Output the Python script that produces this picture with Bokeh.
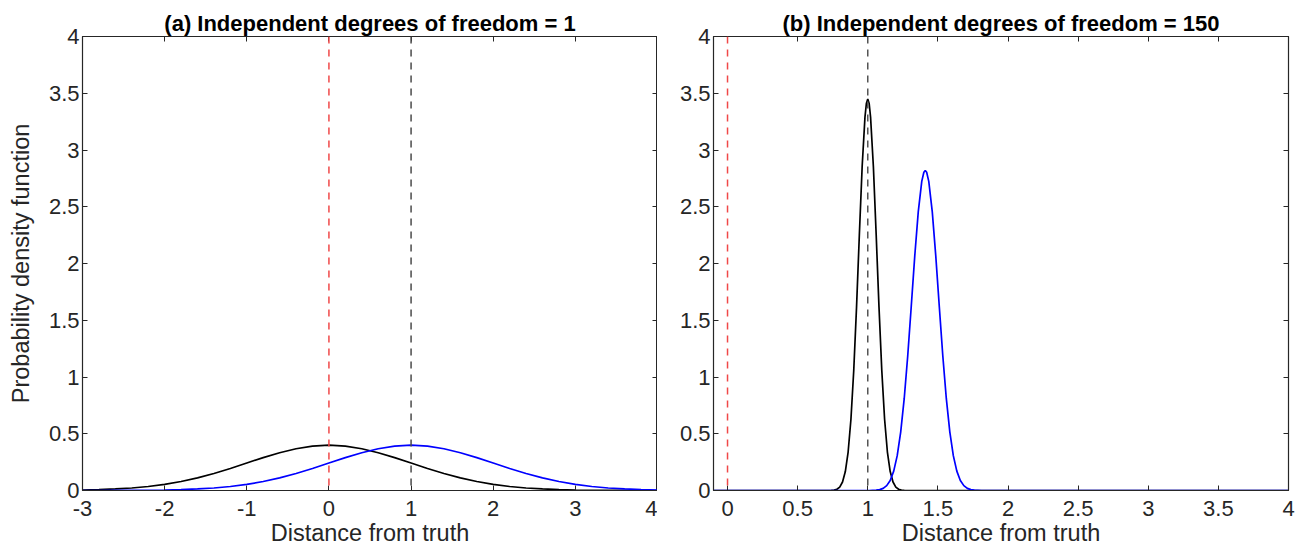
from bokeh.plotting import figure
from bokeh.layouts import row
from bokeh.models import Span, FixedTicker, CustomJSTickFormatter, LinearAxis, Range1d
from bokeh.embed import file_html
from bokeh.resources import INLINE

# ---------------- data ----------------
titles = ["(a) Independent degrees of freedom = 1",
          "(b) Independent degrees of freedom = 150"]
xlabel = "Distance from truth"
ylabel = "Probability density function"

# panel (a)
xa = [-3.0, -2.8, -2.6, -2.4, -2.2, -2.0, -1.8, -1.6, -1.4, -1.2, -1.0, -0.8,
      -0.6, -0.4, -0.2, 0.0, 0.2, 0.4, 0.6, 0.8, 1.0, 1.2, 1.4, 1.6, 1.8, 2.0,
      2.2, 2.4, 2.6, 2.8, 3.0, 3.2, 3.4, 3.6, 3.8, 4.0]
ya_black = [0.004, 0.008, 0.014, 0.022, 0.035, 0.054, 0.079, 0.111, 0.150, 0.194,
            0.242, 0.290, 0.333, 0.368, 0.391, 0.399, 0.391, 0.368, 0.333, 0.290,
            0.242, 0.194, 0.150, 0.111, 0.079, 0.054, 0.035, 0.022, 0.014, 0.008,
            0.004, 0.002, 0.001, 0.001, 0.000, 0.000]
ya_blue = [0.000, 0.000, 0.001, 0.001, 0.002, 0.004, 0.008, 0.014, 0.022, 0.035,
           0.054, 0.079, 0.111, 0.150, 0.194, 0.242, 0.290, 0.333, 0.368, 0.391,
           0.399, 0.391, 0.368, 0.333, 0.290, 0.242, 0.194, 0.150, 0.111, 0.079,
           0.054, 0.035, 0.022, 0.014, 0.008, 0.004]
ref_a = [0.0, 1.0]   # red (truth), grey (reference)

# panel (b)
xb_black = [-0.1, 0.7, 0.74, 0.76, 0.78, 0.80, 0.82, 0.84, 0.86, 0.88, 0.90,
            0.92, 0.94, 0.96, 0.98, 0.99, 1.0, 1.01, 1.02, 1.04, 1.06, 1.08,
            1.10, 1.12, 1.14, 1.16, 1.18, 1.20, 1.22, 1.24, 1.26, 1.3, 4.0]
yb_black = [0.0, 0.0, 0.001, 0.004, 0.011, 0.030, 0.075, 0.167, 0.339, 0.628,
            1.057, 1.618, 2.253, 2.855, 3.29, 3.41, 3.45, 3.41, 3.29, 2.855,
            2.253, 1.618, 1.057, 0.628, 0.339, 0.167, 0.075, 0.030, 0.011,
            0.004, 0.001, 0.0, 0.0]
xb_blue = [-0.1, 1.01, 1.06, 1.085, 1.11, 1.135, 1.16, 1.185, 1.21, 1.235, 1.26,
           1.285, 1.31, 1.335, 1.36, 1.385, 1.40, 1.41, 1.42, 1.435, 1.46, 1.485,
           1.51, 1.535, 1.56, 1.585, 1.61, 1.635, 1.66, 1.685, 1.71, 1.735, 1.76,
           1.81, 4.0]
yb_blue = [0.0, 0.0, 0.003, 0.008, 0.019, 0.043, 0.088, 0.171, 0.307, 0.517, 0.811,
           1.187, 1.621, 2.065, 2.455, 2.724, 2.804, 2.82, 2.804, 2.724, 2.455,
           2.065, 1.621, 1.187, 0.811, 0.517, 0.307, 0.171, 0.088, 0.043, 0.019,
           0.008, 0.003, 0.0, 0.0]
ref_b = [0.0, 1.0]

xticks_a = [-3, -2, -1, 0, 1, 2, 3, 4]
xticks_b = [0, 0.5, 1, 1.5, 2, 2.5, 3, 3.5, 4]
yticks = [0, 0.5, 1, 1.5, 2, 2.5, 3, 3.5, 4]

# ---------------- styling ----------------
FONT = "Liberation Sans"
TXT = "#262626"
fmt = CustomJSTickFormatter(code="return String(Math.round(tick*100)/100);")
blank = CustomJSTickFormatter(code="return '';")


def style_axis(ax, labels=True):
    ax.major_tick_in = 5
    ax.major_tick_out = 0
    ax.minor_tick_line_color = None
    ax.axis_line_color = TXT
    ax.axis_line_width = 1.2
    ax.major_tick_line_color = TXT
    ax.major_label_text_font = FONT
    ax.major_label_text_font_size = "22px"
    ax.major_label_text_color = TXT
    ax.axis_label_text_font = FONT
    ax.axis_label_text_font_size = "23.5px"
    ax.axis_label_text_color = TXT
    ax.axis_label_text_font_style = "normal"
    if not labels:
        ax.formatter = blank
        ax.major_label_text_font_size = "1px"
        ax.major_label_standoff = 0


def make(title, xr, xticks, left_border, right_border, ylab):
    p = figure(frame_width=575, frame_height=454, x_range=Range1d(*xr),
               y_range=Range1d(0, 4), output_backend="svg", toolbar_location=None,
               min_border_left=left_border, min_border_right=right_border,
               min_border_top=36, min_border_bottom=57)
    p.title.text = title
    p.title.align = "center"
    p.title.text_font = FONT
    p.title.text_font_size = "22px"
    p.title.text_font_style = "bold"
    p.title.text_color = "black"
    p.title.standoff = 2
    p.grid.visible = False
    p.outline_line_color = TXT
    p.background_fill_color = "white"
    p.border_fill_color = "white"
    p.xaxis.ticker = FixedTicker(ticks=xticks)
    p.yaxis.ticker = FixedTicker(ticks=yticks)
    p.xaxis.formatter = fmt
    p.yaxis.formatter = fmt
    p.xaxis.axis_label = xlabel
    p.xaxis.major_label_standoff = 10
    p.xaxis.axis_label_standoff = 1
    p.yaxis.major_label_standoff = 3
    if ylab:
        p.yaxis.axis_label = ylab
        p.yaxis.axis_label_standoff = 12
    style_axis(p.xaxis[0])
    style_axis(p.yaxis[0])
    top = LinearAxis(ticker=FixedTicker(ticks=xticks))
    right = LinearAxis(ticker=FixedTicker(ticks=yticks))
    style_axis(top, labels=False)
    style_axis(right, labels=False)
    p.add_layout(top, "above")
    p.add_layout(right, "right")
    return p


pa = make(titles[0], (-3, 4), xticks_a, 82, 0, ylabel)
pa.line(xa, ya_black, line_color="black", line_width=1.7)
pa.line(xa, ya_blue, line_color="blue", line_width=1.7)
pa.add_layout(Span(location=ref_a[0], dimension="height", line_color="#f04848",
                   line_dash="7 6", line_width=1.5))
pa.add_layout(Span(location=ref_a[1], dimension="height", line_color="#4a4a4a",
                   line_dash="7 6", line_width=1.5))

pb = make(titles[1], (-0.1, 4), xticks_b, 56, 14, None)
pb.line(xb_black, yb_black, line_color="black", line_width=1.7)
pb.line(xb_blue, yb_blue, line_color="blue", line_width=1.7)
pb.add_layout(Span(location=ref_b[0], dimension="height", line_color="#f04848",
                   line_dash="7 6", line_width=1.5))
pb.add_layout(Span(location=ref_b[1], dimension="height", line_color="#555555",
                   line_dash="7 6", line_width=1.5))

layout = row(pa, pb, spacing=0)
open("out.html", "w").write(file_html(layout, INLINE))
